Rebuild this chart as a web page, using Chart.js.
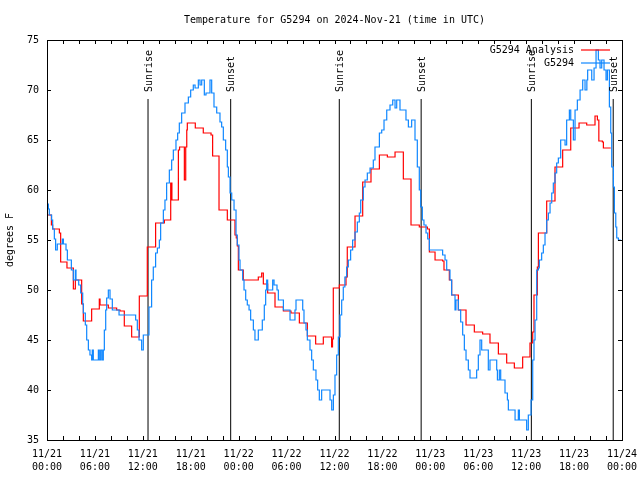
<!DOCTYPE html>
<html>
<head>
<meta charset="utf-8">
<script src="https://cdn.jsdelivr.net/npm/chart.js@4.4.0/dist/chart.umd.min.js"></script>
<style>
  body { margin: 0; background: #fff; }
  #caja { width: 640px; height: 480px; }
</style>
</head>
<body>
<div id="caja"><canvas id="plot1"></canvas></div>
<script>
// horas desde 11/21 00:00 UTC
let etiquetasX = [["11/21","00:00"],["11/21","06:00"],["11/21","12:00"],["11/21","18:00"],
                  ["11/22","00:00"],["11/22","06:00"],["11/22","12:00"],["11/22","18:00"],
                  ["11/23","00:00"],["11/23","06:00"],["11/23","12:00"],["11/23","18:00"],
                  ["11/24","00:00"]];

let horasSol = [12.65, 23.0, 36.6, 46.85, 60.65, 70.9];
let nombresSol = ["Sunrise","Sunset","Sunrise","Sunset","Sunrise","Sunset"];
let topeSol = 69.1;

// G5294 (estacion)
let horasAzul = [0,0.17,0.29,0.58,0.71,0.92,1.08,1.29,1.92,2.05,2.38,2.55,3.05,3.3,3.55,3.63,3.97,4.22,4.47,4.55,
  4.8,4.97,5.18,5.38,5.59,5.67,5.8,6.43,6.55,6.72,6.89,7.05,7.18,7.35,7.47,7.68,7.89,8.18,9.02,11.1,
  11.31,11.52,11.85,12.06,12.77,13.1,13.31,13.6,13.82,14.07,14.23,14.57,14.77,14.98,15.32,15.61,15.82,16.15,16.36,16.57,
  16.86,17.28,17.7,17.99,18.32,18.54,18.95,19.16,19.37,19.7,19.91,20.41,20.62,20.91,21.25,21.66,21.87,22.08,22.37,22.58,
  22.71,22.92,23.13,23.42,23.67,23.83,24.04,24.17,24.5,24.67,24.88,25.08,25.3,25.5,25.84,26.04,26.46,26.96,27.21,27.38,
  27.51,27.63,28.26,28.43,28.8,28.97,29.6,30.43,31.05,31.18,32.02,32.18,32.43,32.6,32.93,33.14,33.35,33.68,33.89,34.1,
  34.39,35.44,35.65,35.86,36.06,36.27,36.48,36.69,36.9,37.1,37.3,37.52,37.73,38.02,38.27,38.57,38.86,39.11,39.28,39.61,
  39.82,40.11,40.45,40.86,41.07,41.62,41.91,42.2,42.54,42.95,43.29,43.58,43.79,44.2,44.95,45.25,45.66,46.08,46.37,46.62,
  46.79,47.0,47.2,47.46,47.67,47.88,49.54,49.84,50.05,50.46,50.67,51.09,51.21,51.51,51.8,52.05,52.26,52.47,52.76,52.97,
  53.8,54.01,54.22,54.43,55.26,55.47,56.31,56.4,56.64,56.81,57.35,57.65,57.77,58.61,59.02,59.15,60.06,60.27,60.61,60.82,
  60.98,61.11,61.32,61.53,61.65,61.94,62.15,62.36,62.57,62.78,62.99,63.2,63.4,63.61,63.82,64.03,64.32,64.87,65.07,65.41,
  65.58,65.91,66.12,66.41,66.75,67.08,67.37,67.6,67.7,68.21,68.5,68.75,69.04,69.25,69.46,69.75,70.0,70.17,70.42,70.59,
  70.71,70.92,71.05,71.22,71.34,71.55,71.84];
let tempsAzul = [59.1,58.6,58.1,57.5,57.0,56.1,55.1,54.0,54.6,55.1,54.6,54.0,53.0,52.0,51.0,52.0,51.0,50.5,49.7,48.6,
  47.7,46.5,45.0,44.0,43.5,43.0,44.0,43.0,44.0,43.0,44.0,43.0,44.0,46.0,48.0,49.2,50.0,49.1,48.0,47.5,
  47.0,46.0,45.0,44.0,45.5,48.3,51.0,52.3,53.7,54.2,55.0,56.7,58.0,59.0,60.7,62.0,63.0,64.0,65.0,65.7,
  66.7,67.7,68.7,69.3,70.0,70.5,70.2,71.0,70.5,71.0,69.5,69.7,71.0,69.7,68.3,67.7,66.8,66.3,65.0,64.0,
  62.3,61.3,59.7,59.0,58.0,55.5,54.5,53.0,52.0,51.0,50.0,49.0,48.5,48.0,47.0,46.0,45.0,46.0,47.0,48.5,
  50.0,51.0,50.0,51.0,50.5,50.0,49.0,48.0,47.0,48.0,49.0,48.0,46.7,46.0,45.0,44.0,43.0,42.0,41.0,40.0,
  39.0,40.0,39.0,38.0,39.5,41.5,43.5,45.3,47.5,49.0,50.3,51.3,52.3,53.0,54.0,55.0,55.8,56.8,57.7,59.0,
  60.3,61.0,61.7,62.2,63.0,64.3,65.7,66.0,67.0,68.0,68.5,69.0,68.2,69.0,68.0,67.0,66.3,67.0,65.0,62.3,
  60.0,58.3,57.0,56.5,55.7,55.1,54.0,53.5,53.0,52.0,51.0,49.5,48.0,49.0,48.0,46.8,45.5,44.0,43.0,42.0,
  41.2,42.0,43.5,45.0,44.0,42.0,43.0,42.0,41.0,42.0,41.0,39.7,39.0,38.0,37.0,38.0,37.0,36.0,37.5,39.0,
  43.0,45.0,47.0,52.0,52.2,53.0,53.7,54.5,55.7,57.0,57.7,58.7,59.7,60.7,61.7,62.7,63.2,65.0,64.5,67.0,
  68.0,67.0,65.0,68.0,69.0,70.0,71.0,70.0,71.0,72.0,71.0,72.2,74.0,73.0,72.2,73.0,72.0,71.0,72.0,68.3,
  65.7,62.3,60.3,57.7,56.3,55.2,55.0];

// G5294 Analysis
let horasRojo = [0,0.55,0.71,1.55,1.71,2.5,3.3,3.55,4.34,4.55,5.59,6.55,6.64,7.68,8.72,9.14,9.68,10.6,11.56,12.56,
  13.6,14.7,15.49,15.64,16.45,16.6,17.2,17.37,17.5,17.57,18.57,19.57,20.54,20.74,21.54,22.58,23.54,23.7,23.83,23.96,
  24.58,26.46,26.88,27.09,27.63,28.55,29.6,30.55,31.6,32.6,33.64,34.6,35.64,35.75,35.85,36.61,37.44,37.6,38.57,39.53,
  40.57,41.62,42.62,43.58,44.62,45.58,46.62,47.63,47.88,48.59,49.54,49.71,50.38,50.67,51.51,52.47,53.51,54.55,55.47,56.52,
  57.56,58.52,59.56,60.48,60.82,60.98,61.4,61.53,62.57,63.61,64.57,65.58,66.62,67.58,68.62,68.92,69.1,69.54,69.67,70.17,
  70.59];
let tempsRojo = [58.0,57.5,56.5,56.1,55.7,52.8,52.2,50.1,51.0,48.6,46.9,48.1,49.1,48.5,48.2,48.0,47.9,46.4,45.3,49.4,
  54.3,56.7,57.0,60.7,59.0,64.0,64.3,61.0,64.3,66.0,66.7,66.2,65.7,65.5,63.4,58.0,57.0,55.5,55.2,54.4,
  52.0,51.0,51.3,51.7,50.6,49.7,48.3,47.9,47.7,46.7,45.4,44.6,45.3,44.3,45.1,50.2,50.5,51.3,54.3,57.4,
  60.8,62.1,63.5,63.3,63.8,61.1,56.5,56.3,56.1,53.8,53.0,52.9,52.0,51.0,49.5,48.0,46.5,45.8,45.6,44.7,
  43.6,42.7,42.2,43.3,44.7,45.8,49.5,52.3,55.7,58.9,62.3,64.0,66.2,66.7,66.5,67.4,67.0,64.9,64.8,64.2,
  64.2];

let aPuntos = (horas, temps) => horas.map((h, i) => ({x: h, y: temps[i]}));

let fuente = '10px "DejaVu Sans Mono", monospace';
Chart.defaults.font.family = '"DejaVu Sans Mono", monospace';
Chart.defaults.font.size = 10;
Chart.defaults.color = '#000';

let datasets = [
  {label: 'G5294', data: aPuntos(horasAzul, tempsAzul), borderColor: '#0f87ff', borderWidth: 1.2, stepped: 'after'},
  {label: 'G5294 Analysis', data: aPuntos(horasRojo, tempsRojo), borderColor: '#ff0000', borderWidth: 1.2, stepped: 'after'}
];
horasSol.forEach((h) => {
  datasets.push({label: 'sol', data: [{x: h, y: 35}, {x: h, y: topeSol}], borderColor: '#000', borderWidth: 1});
});

// marco, ticks hacia dentro, leyenda y textos Sunrise/Sunset
let marco = {
  id: 'marco',
  afterDatasetsDraw: (chart) => {
    let ctx = chart.ctx;
    let {left, right, top, bottom} = chart.chartArea;
    let ex = chart.scales.x;
    let ey = chart.scales.y;
    ctx.save();
    ctx.strokeStyle = '#000';
    ctx.lineWidth = 1;
    ctx.beginPath();
    for (let h = 0; h <= 72; h += 2) {
      let px = Math.round(ex.getPixelForValue(h)) + 0.5;
      ctx.moveTo(px, bottom); ctx.lineTo(px, bottom - 4);
      ctx.moveTo(px, top); ctx.lineTo(px, top + 4);
    }
    for (let t = 35; t <= 75; t += 5) {
      let py = Math.round(ey.getPixelForValue(t)) + 0.5;
      ctx.moveTo(left, py); ctx.lineTo(left + 4, py);
      ctx.moveTo(right, py); ctx.lineTo(right - 4, py);
    }
    ctx.stroke();
    ctx.strokeRect(Math.round(left) + 0.5, Math.round(top) + 0.5, Math.round(right - left), Math.round(bottom - top));

    ctx.font = fuente;
    ctx.fillStyle = '#000';
    ctx.textBaseline = 'middle';
    horasSol.forEach((h, i) => {
      ctx.save();
      ctx.translate(ex.getPixelForValue(h) + 1, ey.getPixelForValue(topeSol) - 7);
      ctx.rotate(-Math.PI / 2);
      ctx.textAlign = 'left';
      ctx.fillText(nombresSol[i], 0, 0);
      ctx.restore();
    });

    let filas = [['G5294 Analysis', '#ff0000'], ['G5294', '#0f87ff']];
    filas.forEach((f, i) => {
      let y = top + 10 + i * 13;
      ctx.textAlign = 'right';
      ctx.fillStyle = '#000';
      ctx.fillText(f[0], right - 48, y);
      ctx.strokeStyle = f[1];
      ctx.lineWidth = 1.2;
      ctx.beginPath();
      ctx.moveTo(right - 41, y);
      ctx.lineTo(right - 12, y);
      ctx.stroke();
    });
    ctx.restore();
  }
};

let plotRef = document.getElementById('plot1');
let chart1 = new Chart(plotRef, {
  type: 'line',
  data: {datasets: datasets},
  options: {
    responsive: true,
    maintainAspectRatio: false,
    devicePixelRatio: 1,
    animation: false,
    events: [],
    layout: {padding: {left: 0, right: 18, top: 0, bottom: 0}},
    elements: {point: {radius: 0}, line: {tension: 0}},
    plugins: {
      legend: {display: false},
      tooltip: {enabled: false},
      title: {
        display: true,
        fullSize: false,
        text: 'Temperature for G5294 on 2024-Nov-21 (time in UTC)',
        font: {size: 10, weight: 'normal', lineHeight: 1.2},
        padding: {top: 14, bottom: 14}
      }
    },
    scales: {
      x: {
        type: 'linear',
        min: 0,
        max: 72,
        grid: {display: false, drawTicks: false},
        border: {display: false},
        afterFit: (escala) => {
          escala.height = 40;
          escala.paddingLeft = 0;
          escala.paddingRight = 0;
        },
        ticks: {
          stepSize: 6,
          autoSkip: false,
          maxRotation: 0,
          padding: 8,
          font: {size: 10, lineHeight: 1.3},
          callback: (valor) => etiquetasX[Math.round(valor / 6)]
        }
      },
      y: {
        min: 35,
        max: 75,
        grid: {display: false, drawTicks: false},
        border: {display: false},
        afterFit: (escala) => {
          escala.width = 47;
          escala.paddingTop = 0;
          escala.paddingBottom = 0;
        },
        title: {display: true, text: 'degrees F', font: {size: 10, lineHeight: 1.2}, padding: {top: 4, bottom: 0}},
        ticks: {stepSize: 5, padding: 8}
      }
    }
  },
  plugins: [marco]
});
</script>
</body>
</html>
